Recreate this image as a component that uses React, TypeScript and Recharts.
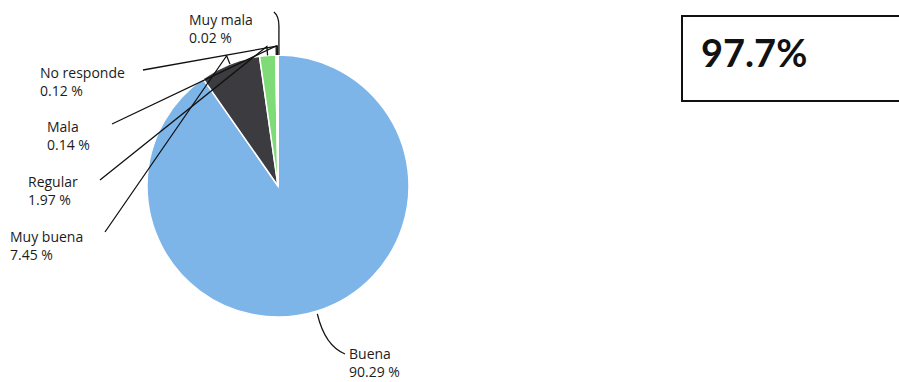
import React from 'react'
import { PieChart, Pie, Cell } from 'recharts'

// clockwise from 12 o'clock
const categories = ['Buena', 'Muy buena', 'Regular', 'Mala', 'No responde', 'Muy mala']
const percents = [90.29, 7.45, 1.97, 0.14, 0.12, 0.02]
const percentLabels = ['90.29 %', '7.45 %', '1.97 %', '0.14 %', '0.12 %', '0.02 %']
const COLORS = ['#7db5e8', '#3b3b40', '#7fda78', '#d9d9d9', '#bcbcbc', '#999999']
const SUMMARY = '97.7%'

const data = categories.map((name, i) => ({ name, value: percents[i], label: percentLabels[i] }))

// label placement relative to pie centre: text anchor (tx, ty) and where the leader line ends (lx, ly)
const LAYOUT: Record<string, { tx: number; ty: number; lx: number; ly: number }> = {
  Buena: { tx: 71, ty: 173, lx: 67, ly: 168 },
  'Muy buena': { tx: -268, ty: 56, lx: -173, ly: 46 },
  Regular: { tx: -250, ty: 1, lx: -178, ly: -6 },
  Mala: { tx: -231, ty: -54, lx: -166, ly: -62 },
  'No responde': { tx: -238, ty: -108, lx: -135, ly: -116 },
  'Muy mala': { tx: -89, ty: -161, lx: 0, ly: -166 },
}

const RAD = Math.PI / 180
const FONT = '"Open Sans", "DejaVu Sans", sans-serif'

function renderLabel(props: any) {
  const { cx, cy, midAngle, outerRadius, name, payload } = props
  const l = LAYOUT[name]
  if (!l) return null
  const cos = Math.cos(-midAngle * RAD)
  const sin = Math.sin(-midAngle * RAD)
  const ax = cx + outerRadius * cos
  const ay = cy + outerRadius * sin
  const bx = cx + (outerRadius + 9) * cos
  const by = cy + (outerRadius + 9) * sin
  let path: string
  if (name === 'Buena') {
    path = `M${ax},${ay + 3} Q${cx + 47},${cy + 160} ${cx + l.lx},${cy + l.ly}`
  } else if (name === 'Muy mala') {
    path = `M${ax + 1},${ay} L${ax + 1},${cy - 160} Q${ax + 1},${cy - 170} ${ax - 4},${cy - 174}`
  } else {
    path = `M${ax},${ay} L${bx},${by} L${cx + l.lx},${cy + l.ly}`
  }
  const label = payload && payload.label
  return (
    <g>
      <path d={path} stroke="#111" strokeWidth={1.3} fill="none" />
      <text x={cx + l.tx} y={cy + l.ty} fill="#1c1c1c" fontSize={14} fontFamily={FONT}>
        {name}
      </text>
      <text x={cx + l.tx} y={cy + l.ty + 18} fill="#1c1c1c" fontSize={14} fontFamily={FONT}>
        {label}
      </text>
    </g>
  )
}

export default function App() {
  return (
    <div
      style={{
        position: 'absolute',
        left: 0,
        top: 0,
        width: 899,
        height: 382,
        overflow: 'hidden',
        background: '#fff',
      }}
    >
      <PieChart width={899} height={382} margin={{ top: 0, right: 0, bottom: 0, left: 0 }}>
        <Pie
          data={data}
          dataKey="value"
          nameKey="name"
          cx={278}
          cy={186}
          outerRadius={131}
          startAngle={90}
          endAngle={-270}
          stroke="#fff"
          strokeWidth={1.5}
          labelLine={false}
          label={renderLabel}
          isAnimationActive={false}
        >
          {data.map((entry, index) => (
            <Cell key={`cell-${index}`} fill={COLORS[index % COLORS.length]} />
          ))}
        </Pie>
      </PieChart>
      <svg
        width={899}
        height={382}
        style={{ position: 'absolute', left: 0, top: 0, pointerEvents: 'none' }}
      >
        <rect x={682} y={16} width={240} height={85} fill="none" stroke="#111" strokeWidth={2} />
        <text
          x={701}
          y={67}
          fontFamily='Lato, "Open Sans", sans-serif'
          fontWeight={700}
          fontSize={38}
          fill="#111"
        >
          {SUMMARY}
        </text>
      </svg>
    </div>
  )
}
